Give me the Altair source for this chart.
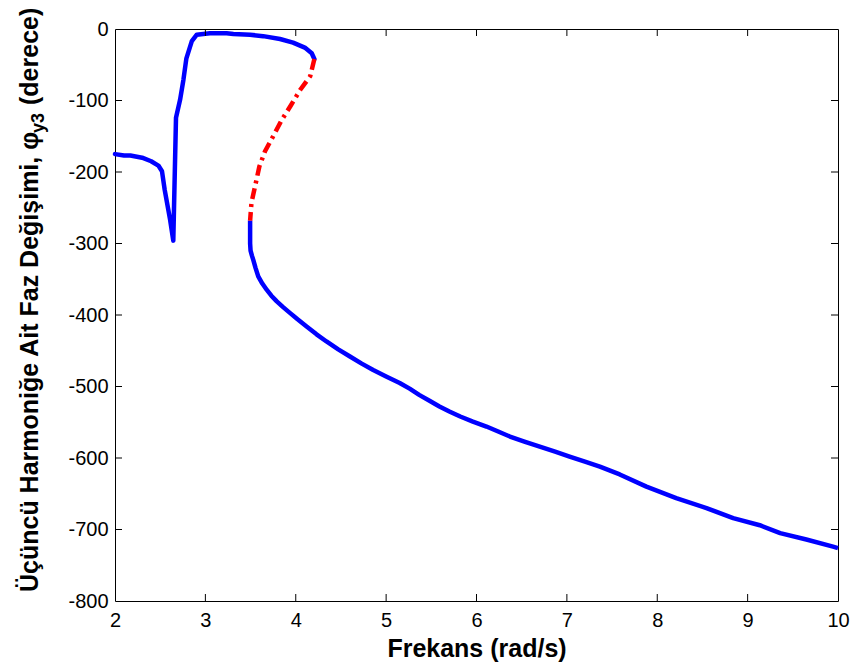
import altair as alt
import pandas as pd

# Blue branch 1 (low frequency, incl. dip and rise to the top fold)
b1_x = [2.00, 2.10, 2.17, 2.30, 2.40, 2.48, 2.52, 2.55, 2.61, 2.645, 2.675, 2.72, 2.757,
        2.79, 2.85, 2.905, 3.05, 3.235, 3.31, 3.495, 3.64, 3.826, 3.97, 4.10, 4.177, 4.206]
b1_y = [-175, -177, -177, -180, -185, -191, -199, -225, -267, -296, -124, -99, -71,
        -41, -17, -8, -6, -6, -7, -8, -10, -14, -19, -26, -34, -42]

# Red dash-dot (unstable) branch
r_x = [4.206, 4.16, 4.05, 3.94, 3.846, 3.75, 3.66, 3.598, 3.55, 3.51, 3.495]
r_y = [-42, -66, -85, -108, -127, -150, -171, -192, -220, -243, -268]

# Blue branch 2 (high frequency)
b2_x = [3.495, 3.495, 3.50, 3.515, 3.53, 3.555, 3.585, 3.63, 3.68, 3.73, 3.79, 3.86, 3.935,
        4.02, 4.12, 4.23, 4.34, 4.47, 4.60, 4.73, 4.857, 5.00, 5.15, 5.26, 5.37, 5.48,
        5.59, 5.70, 5.82, 5.96, 6.11, 6.24, 6.37, 6.53, 6.70, 6.87, 7.03, 7.20, 7.365,
        7.585, 7.88, 8.21, 8.545, 8.84, 9.135, 9.36, 9.65, 9.945, 10.0]
b2_y = [-268, -300, -310, -317, -323, -334, -346, -356, -365, -373, -381, -389, -397,
        -406, -416, -427, -437, -448, -458, -468, -477, -486, -495, -503, -512, -520,
        -528, -535, -542, -549, -556, -563, -570, -577, -584, -591, -598, -605, -612,
        -623, -640, -656, -670, -684, -694, -705, -714, -724, -726]

x_ticks = [2, 3, 4, 5, 6, 7, 8, 9, 10]
y_ticks = [-800, -700, -600, -500, -400, -300, -200, -100, 0]

W, H = 723, 572
FONT = "Liberation Sans"

rows = []
for name, xs_, ys_ in [("b1", b1_x, b1_y), ("r", r_x, r_y), ("b2", b2_x, b2_y)]:
    for i, (a, b) in enumerate(zip(xs_, ys_)):
        rows.append({"seg": name, "o": i, "f": a, "phi": b})
df = pd.DataFrame(rows)

xs = alt.Scale(domain=[2, 10], nice=False, zero=False)
ys = alt.Scale(domain=[-800, 0], nice=False, zero=False)

xaxis = alt.Axis(values=x_ticks, ticks=False, domain=False, grid=False,
                 labelExpr="'' + datum.value", labelFlush=False,
                 labelFont=FONT, labelFontSize=20, labelColor="black", labelPadding=9,
                 title="Frekans (rad/s)", titleFont=FONT, titleFontSize=25,
                 titleFontWeight="bold", titleColor="black", titlePadding=6)
yaxis = alt.Axis(values=y_ticks, ticks=False, domain=False, grid=False,
                 labelExpr="'' + datum.value", labelFlush=False,
                 labelFont=FONT, labelFontSize=20, labelColor="black", labelPadding=7,
                 title=None)

line_style = dict(strokeWidth=4.5, strokeJoin="round")
blue1 = alt.Chart(df[df.seg == "b1"]).mark_line(color="#0000FF", strokeCap="round", **line_style).encode(
    x=alt.X("f:Q", scale=xs, axis=xaxis),
    y=alt.Y("phi:Q", scale=ys, axis=yaxis),
    order="o:Q")
blue2 = alt.Chart(df[df.seg == "b2"]).mark_line(color="#0000FF", **line_style).encode(
    x=alt.X("f:Q", scale=xs), y=alt.Y("phi:Q", scale=ys), order="o:Q")
red = alt.Chart(df[df.seg == "r"]).mark_line(color="#FF0000", strokeDash=[11, 5, 3, 5],
                                              **line_style).encode(
    x=alt.X("f:Q", scale=xs), y=alt.Y("phi:Q", scale=ys), order="o:Q")

xt = pd.DataFrame({"t": x_ticks[1:-1]})
yt = pd.DataFrame({"t": y_ticks[1:-1]})
tick_style = dict(color="black", strokeWidth=1)
xt_bot = alt.Chart(xt).mark_rule(**tick_style).encode(
    x=alt.X("t:Q", scale=xs), y=alt.value(H - 7), y2=alt.value(H))
xt_top = alt.Chart(xt).mark_rule(**tick_style).encode(
    x=alt.X("t:Q", scale=xs), y=alt.value(0), y2=alt.value(7))
yt_left = alt.Chart(yt).mark_rule(**tick_style).encode(
    y=alt.Y("t:Q", scale=ys), x=alt.value(0), x2=alt.value(7))
yt_right = alt.Chart(yt).mark_rule(**tick_style).encode(
    y=alt.Y("t:Q", scale=ys), x=alt.value(W - 7), x2=alt.value(W))

title_style = dict(font=FONT, fontWeight="bold", angle=270, align="left",
                   baseline="alphabetic", color="black")
t1 = alt.Chart(pd.DataFrame({"s": ["Üçüncü Harmoniğe Ait Faz Değişimi, φ"]})).mark_text(
    fontSize=25, **title_style).encode(text="s:N", x=alt.value(-77), y=alt.value(563))
t2 = alt.Chart(pd.DataFrame({"s": ["y3"]})).mark_text(
    fontSize=18, **title_style).encode(text="s:N", x=alt.value(-71), y=alt.value(104))
t3 = alt.Chart(pd.DataFrame({"s": ["(derece)"]})).mark_text(
    fontSize=25, **title_style).encode(text="s:N", x=alt.value(-77), y=alt.value(76))

chart = alt.layer(blue1, blue2, red, xt_bot, xt_top, yt_left, yt_right, t1, t2, t3).properties(
    width=W, height=H,
    autosize=alt.AutoSizeParams(type="none"),
    padding={"left": 115, "top": 29, "right": 15, "bottom": 67},
    background="white",
).configure_view(stroke="black", strokeWidth=1)

chart.save("out.html", embed_options={"renderer": "svg", "actions": False})
